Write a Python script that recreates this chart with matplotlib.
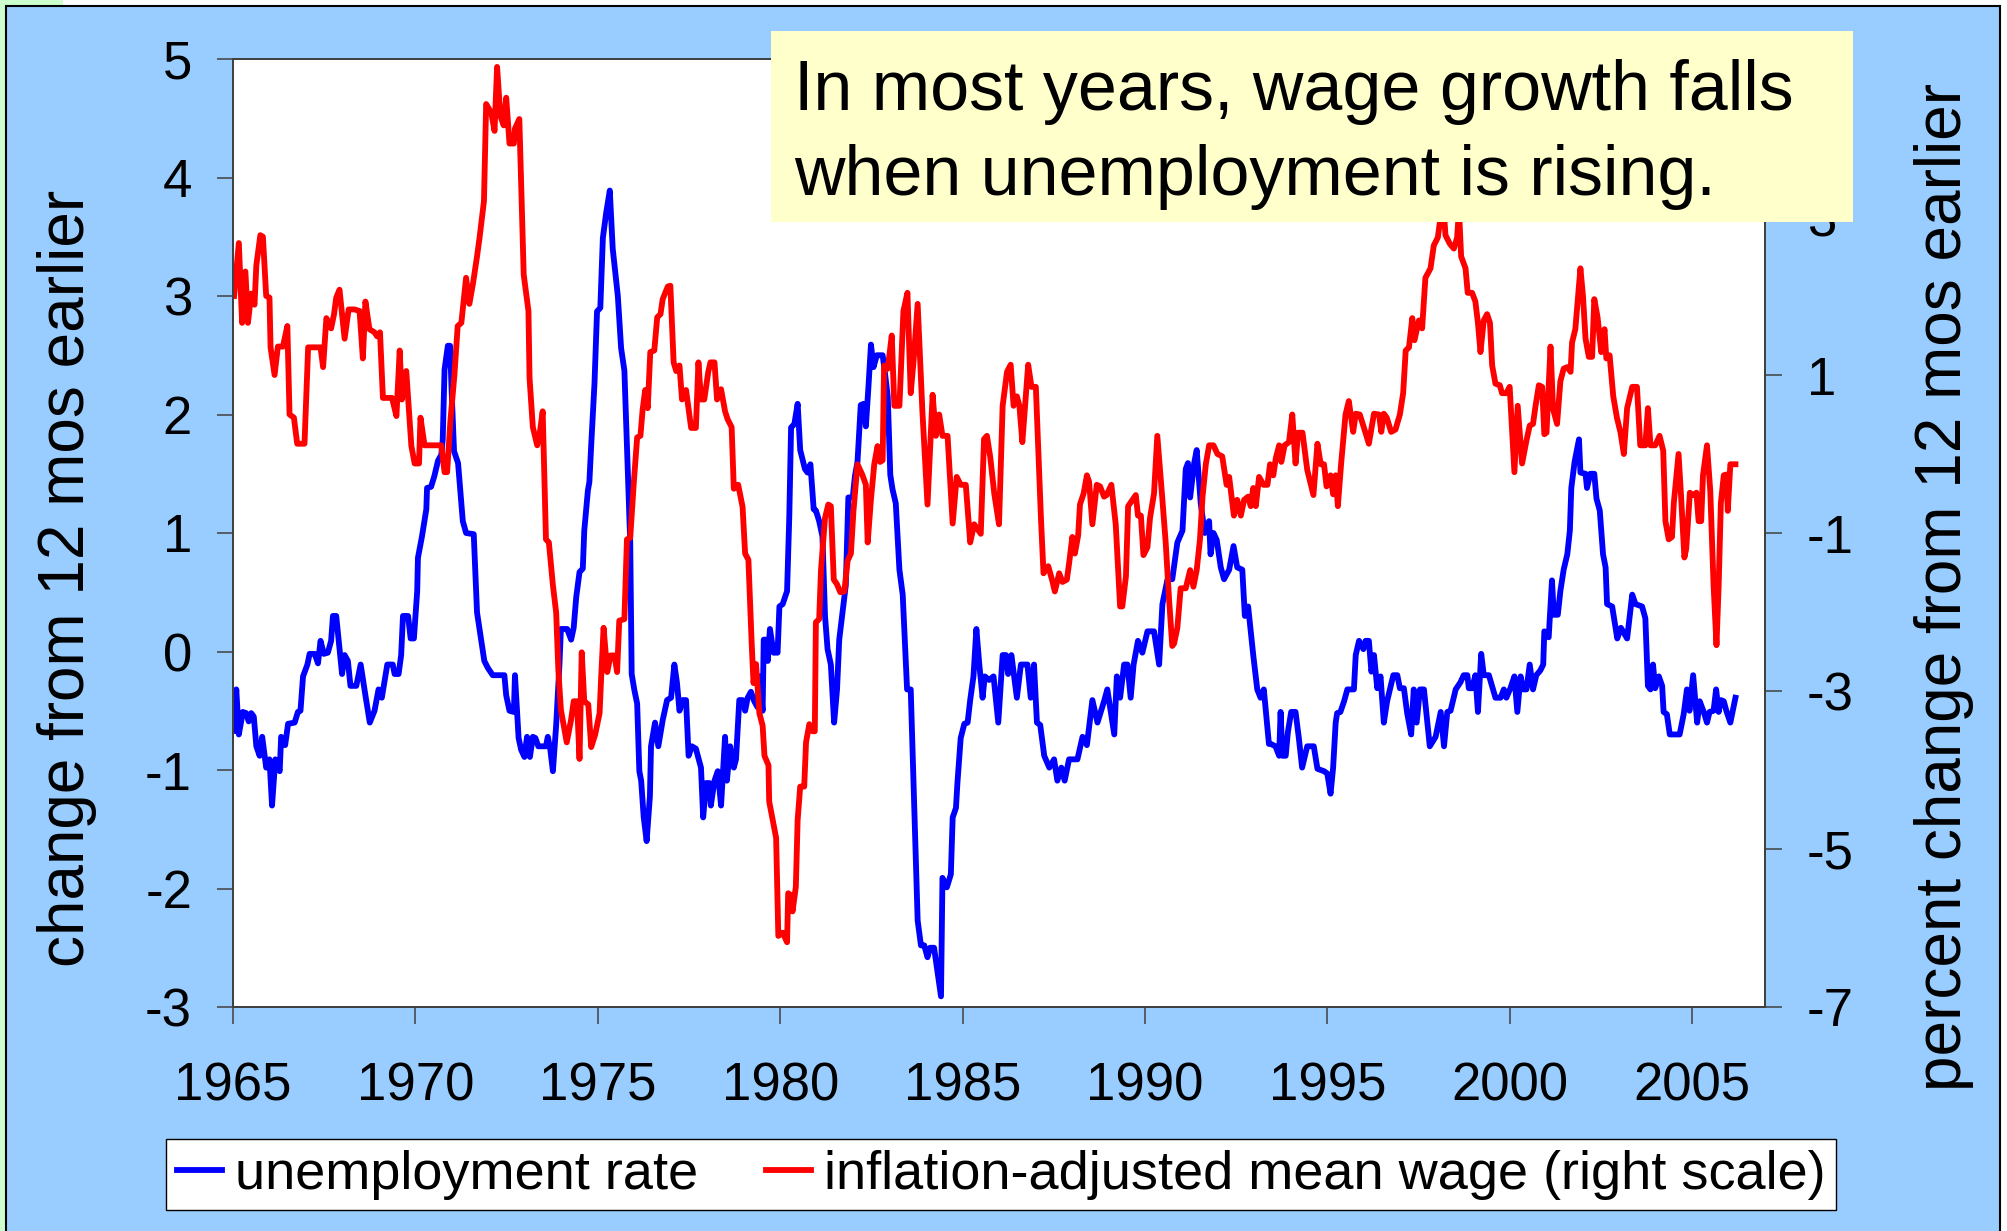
import matplotlib
matplotlib.use("Agg")
import matplotlib.pyplot as plt
from matplotlib.patches import Rectangle

plt.rcParams['font.family'] = ['Liberation Sans', 'DejaVu Sans']
plt.rcParams['axes.unicode_minus'] = False

# ================= data =================

# unemployment rate, change from 12 months earlier (left scale)
unemp_year = [
    1965.03, 1965.09, 1965.16, 1965.27, 1965.36, 1965.43, 1965.50, 1965.57, 1965.64, 1965.73,
    1965.80, 1965.91, 1966.00, 1966.07, 1966.16, 1966.28, 1966.32, 1966.43, 1966.51, 1966.69,
    1966.78, 1966.85, 1966.92, 1967.04, 1967.10, 1967.24, 1967.33, 1967.40, 1967.49, 1967.60,
    1967.69, 1967.74, 1967.83, 1967.99, 1968.06, 1968.15, 1968.22, 1968.38, 1968.50, 1968.63,
    1968.75, 1968.88, 1968.99, 1969.08, 1969.23, 1969.38, 1969.43, 1969.54, 1969.61, 1969.66,
    1969.80, 1969.87, 1969.96, 1970.05, 1970.07, 1970.18, 1970.30, 1970.32, 1970.43, 1970.52,
    1970.62, 1970.71, 1970.75, 1970.80, 1970.89, 1970.95, 1971.00, 1971.06, 1971.17, 1971.30,
    1971.39, 1971.60, 1971.69, 1971.89, 1971.99, 1972.12, 1972.44, 1972.49, 1972.58, 1972.70,
    1972.73, 1972.83, 1972.90, 1972.99, 1973.06, 1973.14, 1973.22, 1973.29, 1973.37, 1973.58,
    1973.63, 1973.70, 1973.77, 1973.86, 1973.95, 1973.99, 1974.16, 1974.27, 1974.34, 1974.41,
    1974.50, 1974.59, 1974.63, 1974.73, 1974.77, 1974.82, 1974.91, 1974.98, 1975.07, 1975.14,
    1975.23, 1975.33, 1975.41, 1975.55, 1975.64, 1975.73, 1975.82, 1975.89, 1975.93, 1976.00,
    1976.08, 1976.14, 1976.19, 1976.26, 1976.34, 1976.43, 1976.46, 1976.57, 1976.66, 1976.78,
    1976.90, 1977.01, 1977.10, 1977.17, 1977.24, 1977.33, 1977.42, 1977.49, 1977.58, 1977.69,
    1977.83, 1977.89, 1977.97, 1978.06, 1978.10, 1978.20, 1978.29, 1978.38, 1978.49, 1978.54,
    1978.63, 1978.73, 1978.79, 1978.88, 1978.97, 1979.04, 1979.11, 1979.20, 1979.29, 1979.38,
    1979.43, 1979.52, 1979.55, 1979.61, 1979.66, 1979.72, 1979.82, 1979.93, 1979.98, 1980.07,
    1980.19, 1980.25, 1980.30, 1980.39, 1980.48, 1980.55, 1980.68, 1980.75, 1980.83, 1980.92,
    1980.98, 1981.07, 1981.16, 1981.23, 1981.30, 1981.39, 1981.48, 1981.56, 1981.62, 1981.71,
    1981.80, 1981.87, 1981.99, 1982.05, 1982.12, 1982.21, 1982.29, 1982.35, 1982.42, 1982.49,
    1982.56, 1982.65, 1982.81, 1982.87, 1982.95, 1983.02, 1983.08, 1983.17, 1983.27, 1983.36,
    1983.48, 1983.58, 1983.77, 1983.86, 1983.95, 1984.04, 1984.11, 1984.22, 1984.41, 1984.45,
    1984.57, 1984.68, 1984.73, 1984.82, 1984.86, 1984.95, 1985.05, 1985.14, 1985.21, 1985.30,
    1985.38, 1985.46, 1985.55, 1985.61, 1985.73, 1985.85, 1985.98, 1986.10, 1986.19, 1986.25,
    1986.34, 1986.49, 1986.60, 1986.78, 1986.87, 1986.96, 1987.04, 1987.13, 1987.24, 1987.38,
    1987.51, 1987.60, 1987.71, 1987.80, 1987.92, 1988.15, 1988.29, 1988.41, 1988.56, 1988.70,
    1988.88, 1988.97, 1989.16, 1989.23, 1989.32, 1989.43, 1989.52, 1989.61, 1989.69, 1989.81,
    1989.93, 1990.07, 1990.25, 1990.39, 1990.48, 1990.62, 1990.75, 1990.89, 1991.03, 1991.12,
    1991.18, 1991.24, 1991.35, 1991.42, 1991.53, 1991.64, 1991.76, 1991.80, 1991.88, 1991.97,
    1992.08, 1992.17, 1992.31, 1992.43, 1992.53, 1992.67, 1992.74, 1992.83, 1992.97, 1993.08,
    1993.17, 1993.26, 1993.40, 1993.45, 1993.58, 1993.68, 1993.72, 1993.77, 1993.86, 1993.92,
    1994.01, 1994.13, 1994.22, 1994.31, 1994.45, 1994.63, 1994.73, 1994.91, 1995.00, 1995.09,
    1995.16, 1995.23, 1995.27, 1995.36, 1995.46, 1995.55, 1995.73, 1995.78, 1995.87, 1995.99,
    1996.05, 1996.14, 1996.21, 1996.28, 1996.37, 1996.46, 1996.55, 1996.64, 1996.81, 1996.92,
    1996.99, 1997.10, 1997.19, 1997.30, 1997.37, 1997.45, 1997.54, 1997.65, 1997.81, 1997.97,
    1998.11, 1998.20, 1998.29, 1998.38, 1998.52, 1998.65, 1998.74, 1998.84, 1998.88, 1998.97,
    1999.06, 1999.13, 1999.22, 1999.29, 1999.43, 1999.61, 1999.75, 1999.84, 1999.91, 2000.02,
    2000.13, 2000.21, 2000.30, 2000.37, 2000.46, 2000.55, 2000.64, 2000.73, 2000.84, 2000.92,
    2000.95, 2001.07, 2001.16, 2001.21, 2001.32, 2001.39, 2001.48, 2001.58, 2001.65, 2001.69,
    2001.78, 2001.90, 2001.94, 2002.08, 2002.12, 2002.21, 2002.32, 2002.38, 2002.47, 2002.56,
    2002.63, 2002.67, 2002.81, 2002.95, 2003.05, 2003.22, 2003.36, 2003.45, 2003.63, 2003.72,
    2003.79, 2003.86, 2003.93, 2003.99, 2004.09, 2004.18, 2004.22, 2004.31, 2004.39, 2004.66,
    2004.77, 2004.86, 2004.93, 2005.03, 2005.14, 2005.21, 2005.32, 2005.41, 2005.48, 2005.59,
    2005.66, 2005.73, 2005.79, 2005.87, 2005.94, 2006.05, 2006.19,
]
unemp_chg = [
    -0.67, -0.32, -0.70, -0.51, -0.52, -0.59, -0.52, -0.55, -0.80, -0.88,
    -0.72, -0.98, -0.91, -1.30, -0.91, -1.01, -0.72, -0.79, -0.61, -0.60,
    -0.51, -0.50, -0.21, -0.11, -0.02, -0.02, -0.10, 0.09, -0.02, -0.01,
    0.09, 0.30, 0.30, -0.19, -0.03, -0.08, -0.29, -0.29, -0.11, -0.37,
    -0.60, -0.50, -0.32, -0.39, -0.11, -0.11, -0.19, -0.19, -0.03, 0.30,
    0.30, 0.11, 0.11, 0.51, 0.79, 0.97, 1.20, 1.38, 1.39, 1.48,
    1.61, 1.66, 1.79, 2.38, 2.58, 2.58, 2.15, 1.69, 1.59, 1.10,
    1.00, 0.99, 0.33, -0.08, -0.14, -0.20, -0.20, -0.37, -0.50, -0.51,
    -0.20, -0.73, -0.83, -0.89, -0.72, -0.89, -0.72, -0.73, -0.80, -0.80,
    -0.72, -0.83, -1.01, -0.62, -0.11, 0.19, 0.19, 0.10, 0.20, 0.46,
    0.67, 0.70, 1.02, 1.36, 1.43, 1.74, 2.26, 2.87, 2.90, 3.49,
    3.70, 3.89, 3.40, 3.00, 2.56, 2.37, 1.54, 0.92, -0.19, -0.32,
    -0.44, -1.01, -1.09, -1.40, -1.60, -1.22, -0.80, -0.60, -0.80, -0.58,
    -0.41, -0.39, -0.11, -0.26, -0.50, -0.41, -0.41, -0.88, -0.80, -0.82,
    -0.98, -1.40, -1.11, -1.11, -1.30, -1.09, -1.01, -1.30, -0.72, -1.09,
    -0.80, -0.98, -0.91, -0.41, -0.41, -0.50, -0.39, -0.34, -0.42, -0.47,
    -0.21, -0.50, 0.10, 0.10, -0.08, 0.19, -0.01, -0.01, 0.38, 0.40,
    0.51, 1.13, 1.89, 1.92, 2.09, 1.70, 1.54, 1.51, 1.58, 1.20,
    1.19, 1.10, 0.97, 0.30, 0.02, -0.11, -0.60, -0.32, 0.10, 0.33,
    0.56, 1.30, 1.30, 1.48, 1.60, 2.08, 2.09, 1.90, 2.23, 2.59,
    2.40, 2.50, 2.50, 2.36, 2.15, 1.49, 1.37, 1.25, 0.69, 0.48,
    -0.32, -0.32, -2.27, -2.48, -2.48, -2.58, -2.50, -2.50, -2.91, -1.91,
    -1.99, -1.88, -1.40, -1.32, -1.11, -0.73, -0.61, -0.60, -0.41, -0.21,
    0.19, -0.11, -0.39, -0.21, -0.24, -0.21, -0.60, -0.03, -0.03, -0.19,
    -0.03, -0.39, -0.11, -0.11, -0.39, -0.11, -0.60, -0.62, -0.88, -0.98,
    -0.91, -1.09, -0.98, -1.09, -0.91, -0.91, -0.72, -0.79, -0.41, -0.60,
    -0.42, -0.32, -0.70, -0.21, -0.39, -0.11, -0.11, -0.39, -0.11, 0.09,
    -0.01, 0.17, 0.17, -0.11, 0.40, 0.61, 0.61, 0.92, 1.02, 1.54,
    1.59, 1.30, 1.59, 1.70, 1.25, 1.00, 1.10, 0.82, 1.00, 0.94,
    0.71, 0.61, 0.69, 0.89, 0.71, 0.69, 0.30, 0.38, -0.03, -0.32,
    -0.39, -0.32, -0.78, -0.78, -0.80, -0.88, -0.51, -0.88, -0.88, -0.68,
    -0.51, -0.51, -0.73, -0.98, -0.80, -0.80, -0.99, -1.01, -1.03, -1.20,
    -0.98, -0.60, -0.52, -0.51, -0.42, -0.32, -0.32, -0.03, 0.09, 0.02,
    0.09, 0.09, -0.17, -0.03, -0.31, -0.21, -0.60, -0.42, -0.20, -0.20,
    -0.31, -0.31, -0.52, -0.70, -0.32, -0.60, -0.32, -0.32, -0.80, -0.72,
    -0.51, -0.80, -0.51, -0.50, -0.32, -0.26, -0.20, -0.20, -0.31, -0.31,
    -0.20, -0.51, -0.02, -0.20, -0.20, -0.39, -0.39, -0.32, -0.39, -0.31,
    -0.21, -0.51, -0.21, -0.32, -0.32, -0.11, -0.32, -0.20, -0.16, -0.11,
    0.17, 0.12, 0.60, 0.31, 0.31, 0.51, 0.69, 0.82, 1.02, 1.38,
    1.60, 1.79, 1.51, 1.50, 1.38, 1.50, 1.50, 1.29, 1.19, 0.82,
    0.71, 0.40, 0.38, 0.11, 0.20, 0.11, 0.48, 0.40, 0.38, 0.28,
    -0.29, -0.32, -0.11, -0.31, -0.21, -0.29, -0.51, -0.53, -0.70, -0.70,
    -0.53, -0.32, -0.50, -0.20, -0.60, -0.42, -0.51, -0.60, -0.51, -0.50,
    -0.32, -0.51, -0.41, -0.42, -0.50, -0.60, -0.39,
]

# inflation-adjusted mean wage, percent change from 12 months earlier (right scale)
wage_year = [
    1965.03, 1965.16, 1965.25, 1965.34, 1965.41, 1965.50, 1965.59, 1965.64, 1965.75, 1965.82,
    1965.91, 1966.00, 1966.03, 1966.14, 1966.23, 1966.37, 1966.49, 1966.55, 1966.67, 1966.76,
    1966.96, 1967.06, 1967.40, 1967.47, 1967.56, 1967.69, 1967.77, 1967.83, 1967.92, 1968.06,
    1968.17, 1968.33, 1968.47, 1968.56, 1968.63, 1968.74, 1968.88, 1968.95, 1969.03, 1969.11,
    1969.36, 1969.48, 1969.57, 1969.63, 1969.75, 1969.89, 1969.98, 1970.10, 1970.14, 1970.25,
    1970.71, 1970.80, 1970.87, 1970.96, 1971.07, 1971.16, 1971.26, 1971.39, 1971.48, 1971.58,
    1971.69, 1971.76, 1971.88, 1971.94, 1972.08, 1972.17, 1972.24, 1972.33, 1972.42, 1972.49,
    1972.58, 1972.70, 1972.73, 1972.85, 1972.97, 1973.10, 1973.13, 1973.22, 1973.34, 1973.40,
    1973.49, 1973.58, 1973.66, 1973.77, 1973.86, 1973.92, 1973.99, 1974.15, 1974.27, 1974.34,
    1974.43, 1974.50, 1974.56, 1974.63, 1974.74, 1974.82, 1974.93, 1975.05, 1975.09, 1975.16,
    1975.26, 1975.35, 1975.46, 1975.53, 1975.59, 1975.73, 1975.80, 1975.89, 1975.99, 1976.08,
    1976.17, 1976.23, 1976.30, 1976.37, 1976.44, 1976.55, 1976.63, 1976.72, 1976.78, 1976.92,
    1976.99, 1977.08, 1977.15, 1977.24, 1977.31, 1977.42, 1977.56, 1977.69, 1977.76, 1977.83,
    1977.92, 1978.03, 1978.09, 1978.20, 1978.27, 1978.38, 1978.49, 1978.56, 1978.67, 1978.73,
    1978.85, 1978.97, 1979.04, 1979.13, 1979.22, 1979.27, 1979.34, 1979.43, 1979.52, 1979.57,
    1979.68, 1979.70, 1979.89, 1979.95, 1980.07, 1980.19, 1980.22, 1980.28, 1980.34, 1980.43,
    1980.48, 1980.55, 1980.66, 1980.71, 1980.80, 1980.89, 1980.95, 1980.98, 1981.07, 1981.12,
    1981.23, 1981.32, 1981.39, 1981.47, 1981.56, 1981.65, 1981.76, 1981.85, 1981.94, 1982.01,
    1982.12, 1982.26, 1982.35, 1982.40, 1982.49, 1982.58, 1982.67, 1982.74, 1982.81, 1982.85,
    1982.95, 1983.06, 1983.13, 1983.27, 1983.38, 1983.49, 1983.58, 1983.66, 1983.77, 1983.90,
    1984.04, 1984.18, 1984.27, 1984.36, 1984.45, 1984.59, 1984.73, 1984.84, 1984.95, 1985.09,
    1985.21, 1985.32, 1985.50, 1985.59, 1985.67, 1985.76, 1985.87, 1986.00, 1986.10, 1986.22,
    1986.32, 1986.40, 1986.49, 1986.56, 1986.64, 1986.80, 1986.89, 1987.01, 1987.15, 1987.22,
    1987.35, 1987.47, 1987.53, 1987.65, 1987.74, 1987.86, 1987.92, 1988.01, 1988.08, 1988.17,
    1988.22, 1988.32, 1988.41, 1988.47, 1988.56, 1988.68, 1988.77, 1988.88, 1988.95, 1989.08,
    1989.20, 1989.32, 1989.38, 1989.48, 1989.54, 1989.66, 1989.75, 1989.81, 1989.89, 1989.96,
    1990.07, 1990.14, 1990.25, 1990.34, 1990.48, 1990.57, 1990.66, 1990.75, 1990.80, 1990.89,
    1990.98, 1991.12, 1991.24, 1991.33, 1991.42, 1991.51, 1991.58, 1991.67, 1991.76, 1991.88,
    1991.99, 1992.12, 1992.24, 1992.31, 1992.44, 1992.53, 1992.63, 1992.72, 1992.83, 1992.90,
    1992.97, 1993.04, 1993.13, 1993.25, 1993.36, 1993.43, 1993.52, 1993.59, 1993.68, 1993.74,
    1993.83, 1993.95, 1994.04, 1994.13, 1994.20, 1994.32, 1994.45, 1994.62, 1994.73, 1994.82,
    1994.91, 1994.98, 1995.09, 1995.16, 1995.23, 1995.29, 1995.38, 1995.50, 1995.59, 1995.71,
    1995.78, 1995.89, 1996.00, 1996.14, 1996.28, 1996.42, 1996.48, 1996.55, 1996.63, 1996.75,
    1996.87, 1996.99, 1997.08, 1997.15, 1997.24, 1997.33, 1997.39, 1997.51, 1997.60, 1997.69,
    1997.83, 1997.92, 1998.03, 1998.11, 1998.17, 1998.24, 1998.36, 1998.47, 1998.56, 1998.61,
    1998.67, 1998.79, 1998.85, 1998.97, 1999.06, 1999.13, 1999.20, 1999.29, 1999.38, 1999.46,
    1999.52, 1999.61, 1999.73, 1999.79, 1999.91, 2000.00, 2000.13, 2000.22, 2000.34, 2000.46,
    2000.55, 2000.64, 2000.71, 2000.80, 2000.89, 2000.95, 2001.01, 2001.12, 2001.19, 2001.30,
    2001.39, 2001.48, 2001.58, 2001.67, 2001.71, 2001.80, 2001.87, 2001.94, 2002.01, 2002.08,
    2002.17, 2002.26, 2002.32, 2002.41, 2002.51, 2002.60, 2002.65, 2002.74, 2002.84, 2002.94,
    2003.04, 2003.13, 2003.22, 2003.36, 2003.49, 2003.58, 2003.72, 2003.79, 2003.86, 2003.99,
    2004.11, 2004.21, 2004.27, 2004.36, 2004.45, 2004.50, 2004.63, 2004.70, 2004.79, 2004.84,
    2004.94, 2005.03, 2005.12, 2005.18, 2005.25, 2005.30, 2005.41, 2005.50, 2005.59, 2005.67,
    2005.73, 2005.79, 2005.87, 2005.94, 2005.98, 2006.05, 2006.19,
]
wage_chg = [
    2.00, 2.67, 1.66, 2.31, 1.66, 2.03, 1.89, 2.39, 2.77, 2.75,
    2.00, 1.98, 1.35, 1.00, 1.36, 1.36, 1.62, 0.50, 0.46, 0.13,
    0.13, 1.35, 1.35, 1.10, 1.72, 1.59, 1.77, 1.98, 2.08, 1.46,
    1.83, 1.83, 1.81, 1.21, 1.93, 1.58, 1.54, 1.49, 1.54, 0.71,
    0.71, 0.48, 1.31, 0.69, 1.05, 0.10, -0.12, -0.12, 0.46, 0.11,
    0.11, -0.23, -0.23, 0.42, 1.00, 1.62, 1.66, 2.23, 1.90, 2.16,
    2.50, 2.74, 3.20, 4.43, 4.32, 4.09, 4.90, 4.28, 4.16, 4.51,
    3.93, 3.93, 4.12, 4.24, 2.27, 1.81, 0.96, 0.34, 0.11, 0.23,
    0.54, -1.08, -1.12, -1.66, -2.01, -2.74, -3.24, -3.65, -3.36, -3.13,
    -3.13, -3.86, -2.51, -3.13, -3.17, -3.71, -3.55, -3.28, -2.86, -2.20,
    -2.76, -2.55, -2.55, -2.76, -2.11, -2.09, -1.08, -1.06, -0.35, 0.21,
    0.23, 0.56, 0.81, 0.58, 1.29, 1.31, 1.73, 1.77, 1.96, 2.12,
    2.13, 1.16, 1.05, 1.12, 0.69, 0.81, 0.33, 0.33, 1.16, 0.69,
    0.69, 1.04, 1.16, 1.16, 0.69, 0.82, 0.54, 0.44, 0.34, -0.44,
    -0.39, -0.67, -1.26, -1.34, -2.40, -2.90, -2.66, -3.28, -3.44, -3.82,
    -3.94, -4.40, -4.86, -6.10, -6.06, -6.18, -5.56, -5.58, -5.79, -5.48,
    -4.63, -4.21, -4.21, -3.65, -3.42, -3.51, -3.51, -2.13, -2.09, -1.47,
    -0.81, -0.64, -0.66, -1.59, -1.65, -1.75, -1.74, -1.35, -1.26, -0.72,
    -0.13, -0.27, -0.39, -1.12, -0.57, -0.13, 0.10, -0.10, -0.08, 1.12,
    1.08, 1.50, 0.61, 0.61, 1.81, 2.04, 0.77, 1.19, 1.90, 0.54,
    -0.64, 0.75, 0.23, 0.50, 0.23, 0.23, -0.88, -0.29, -0.39, -0.39,
    -1.12, -0.89, -1.01, 0.19, 0.23, -0.04, -0.50, -0.89, 0.61, 1.04,
    1.13, 0.61, 0.73, 0.61, 0.15, 1.13, 0.85, 0.85, -0.81, -1.51,
    -1.42, -1.62, -1.74, -1.51, -1.62, -1.59, -1.39, -1.05, -1.26, -1.03,
    -0.64, -0.50, -0.27, -0.35, -0.89, -0.39, -0.41, -0.54, -0.52, -0.39,
    -0.89, -1.93, -1.93, -1.55, -0.66, -0.58, -0.52, -0.78, -0.78, -1.28,
    -1.18, -0.81, -0.50, 0.23, -0.58, -1.12, -1.82, -2.43, -2.40, -2.20,
    -1.70, -1.70, -1.47, -1.68, -1.47, -1.08, -0.54, -0.13, 0.11, 0.11,
    0.00, -0.03, -0.39, -0.29, -0.78, -0.58, -0.78, -0.58, -0.54, -0.66,
    -0.43, -0.66, -0.29, -0.39, -0.39, -0.13, -0.27, -0.05, 0.11, -0.10,
    0.11, 0.15, 0.50, -0.12, 0.27, 0.27, -0.20, -0.52, 0.13, -0.13,
    -0.13, -0.41, -0.27, -0.51, -0.27, -0.66, -0.12, 0.50, 0.67, 0.28,
    0.51, 0.50, 0.34, 0.13, 0.51, 0.50, 0.28, 0.51, 0.46, 0.28,
    0.31, 0.50, 0.77, 1.31, 1.35, 1.72, 1.44, 1.69, 1.59, 2.23,
    2.35, 2.64, 2.74, 3.01, 3.25, 2.77, 2.66, 2.60, 2.74, 3.10,
    2.50, 2.35, 2.04, 2.04, 1.93, 1.66, 1.29, 1.69, 1.77, 1.66,
    1.12, 0.89, 0.87, 0.77, 0.77, 0.85, -0.23, 0.61, -0.12, 0.17,
    0.36, 0.38, 0.61, 0.87, 0.85, 0.25, 0.27, 1.36, 0.57, 0.38,
    0.92, 1.08, 1.10, 1.04, 1.41, 1.58, 1.96, 2.35, 2.00, 1.46,
    1.23, 1.23, 1.96, 1.73, 1.29, 1.58, 1.21, 1.25, 0.73, 0.46,
    0.27, 0.00, 0.58, 0.85, 0.85, 0.11, 0.11, 0.58, 0.11, 0.11,
    0.23, 0.04, -0.85, -1.08, -1.05, -0.62, 0.00, -0.54, -1.31, -1.20,
    -0.49, -0.52, -0.49, -0.85, -0.85, -0.27, 0.11, -0.47, -1.66, -2.42,
    -1.66, -0.62, -0.27, -0.26, -0.72, -0.13, -0.13,
]

year_ticks = [1965, 1970, 1975, 1980, 1985, 1990, 1995, 2000, 2005]
left_ticks = [-3, -2, -1, 0, 1, 2, 3, 4, 5]
right_ticks = [-7, -5, -3, -1, 1, 3, 5]

NOTE_LINES = ["In most years, wage growth falls", "when unemployment is rising."]
LEFT_LABEL = "change from 12 mos earlier"
RIGHT_LABEL = "percent change from 12 mos earlier"
LEGEND_LABELS = ["unemployment rate", "inflation-adjusted mean wage (right scale)"]

# ================= layout =================

W, H = 2008, 1231
BG = "#99CCFF"
GREEN = "#CCFFCC"
NOTE_BG = "#FFFFCC"
SPINE = "#404040"


def fx(px):
    return px / W


def fy(py):
    return 1 - py / H


fig = plt.figure(figsize=(W / 100, H / 100), dpi=100, facecolor=BG)

# slide edges: green strip on the left, white strip on top/right, black frame
fig.patches.append(Rectangle((0, 0), fx(6), 1, transform=fig.transFigure,
                             facecolor=GREEN, edgecolor="none", zorder=0))
fig.patches.append(Rectangle((0, fy(6)), fx(63), 1 - fy(6), transform=fig.transFigure,
                             facecolor=GREEN, edgecolor="none", zorder=0))
fig.patches.append(Rectangle((fx(63), fy(6)), 1 - fx(63), 1 - fy(6), transform=fig.transFigure,
                             facecolor="white", edgecolor="none", zorder=0))
fig.patches.append(Rectangle((fx(2001), 0), 1 - fx(2001), 1, transform=fig.transFigure,
                             facecolor="white", edgecolor="none", zorder=0))
fig.patches.append(Rectangle((fx(6), fy(1245)), fx(2000) - fx(6), fy(6) - fy(1245),
                             transform=fig.transFigure, fill=False,
                             edgecolor="black", linewidth=1.5, zorder=1))

ax = fig.add_axes([fx(233), fy(1007), fx(1765) - fx(233), fy(59) - fy(1007)])
ax.set_facecolor("white")
ax2 = ax.twinx()

l1, = ax.plot(unemp_year, unemp_chg, color="#0000FF", linewidth=4.2)
l2, = ax2.plot(wage_year, wage_chg, color="#FF0000", linewidth=4.2)

ax.set_xlim(1965, 2007)
ax.set_ylim(-3, 5)
ax2.set_ylim(-7, 5)
ax.set_xticks(year_ticks)
ax.set_yticks(left_ticks)
ax2.set_yticks(right_ticks)

for a in (ax, ax2):
    for s in a.spines.values():
        s.set_color(SPINE)
        s.set_linewidth(1.3)

ax.tick_params(axis="y", direction="out", length=11.5, width=1.1, color=SPINE,
               pad=18, labelsize=38)
ax.tick_params(axis="x", direction="out", length=12, width=1.1, color=SPINE,
               pad=27, labelsize=38)
ax2.tick_params(axis="y", direction="out", length=12, width=1.1, color=SPINE,
                pad=18, labelsize=38)

ax.set_ylabel(LEFT_LABEL, fontsize=46)
ax.yaxis.set_label_coords(-0.1084, 0.4525)
ax.yaxis.label.set_verticalalignment("center")
ax2.set_ylabel(RIGHT_LABEL, fontsize=46, rotation=90)
ax2.yaxis.set_label_coords(1.1168, 0.443)
ax2.yaxis.label.set_verticalalignment("center")

leg = fig.legend([l1, l2], LEGEND_LABELS, loc="center",
                 bbox_to_anchor=(fx((168 + 1834) / 2), fy((1136 + 1213) / 2)),
                 ncol=2, fontsize=39, frameon=True, fancybox=False,
                 edgecolor="black", facecolor="white", framealpha=1,
                 handlelength=0.83, handletextpad=0.24, columnspacing=1.25,
                 borderpad=0.2)
leg.get_frame().set_linewidth(1.0)

# yellow note box on top of the plot
bax = fig.add_axes([fx(771), fy(222), fx(1853) - fx(771), fy(31) - fy(222)])
bax.set_facecolor(NOTE_BG)
bax.set_xticks([])
bax.set_yticks([])
for s in bax.spines.values():
    s.set_visible(False)
for line, base in zip(NOTE_LINES, [110, 195]):
    bax.text(23 / 1082, (222 - base) / 191, line, transform=bax.transAxes,
             fontsize=50.4, ha="left", va="baseline")

fig.savefig("out.png", dpi=100, facecolor=fig.get_facecolor())
